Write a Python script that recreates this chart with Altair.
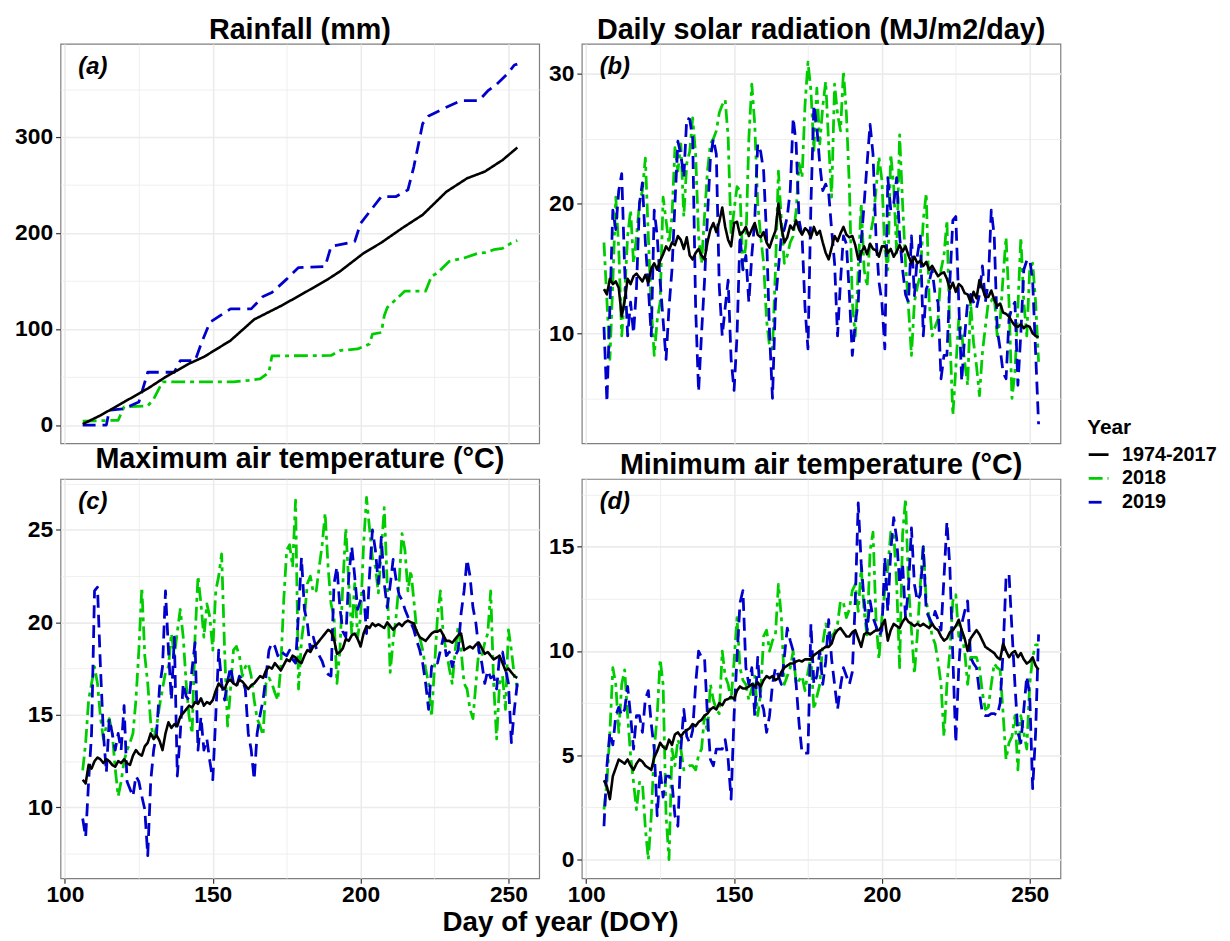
import altair as alt
import pandas as pd

FONT = "Liberation Sans"

# ---------------- data ----------------
DOY = list(range(106, 254))

# (a) cumulative rainfall (mm) - read at break points
rain_clim_doy = [106, 112, 120, 128, 134, 142, 147, 156, 164, 173, 180, 189, 193, 201, 207, 214, 221, 229, 236, 242, 248, 253]
rain_clim = [1, 10, 24, 38, 50, 64, 71, 88, 110, 124, 136, 152, 160, 179, 190, 205, 219, 243, 257, 264, 276, 289]

rain_2018_doy = [106, 118, 120, 128, 130, 133, 157, 162, 166, 169, 170, 190, 193, 199, 203, 204, 207, 208, 209, 212, 215,
                 222, 224, 226, 230, 235, 240, 242, 245, 248, 251, 253]
rain_2018 = [4, 5, 19, 20, 27, 45, 45, 46.5, 48, 55, 72, 72.5, 77.6, 79.3, 84.4, 94.7, 96.4, 113.8, 122.3, 131, 139.6,
             139.6, 155, 158.5, 170.6, 174, 179.2, 179.5, 182.6, 184, 189.6, 192.3]

rain_2019_doy = [106, 114, 115, 120, 125, 126, 128, 137, 139, 144, 146, 149, 153, 156, 163, 167, 170, 175, 179, 188, 190,
                 198, 200, 204, 207, 212, 216, 218, 221, 223, 229, 234, 240, 243, 246, 250, 252, 253]
rain_2019 = [0, 0, 15.5, 17, 24, 34, 55, 55, 67, 67, 84, 107, 115, 121, 121, 134, 138, 152, 164, 165, 186,
             191, 210, 226, 238, 238, 245, 269, 314, 322, 331, 338, 338, 348, 355, 367, 375, 376]

# (b) daily solar radiation (MJ/m2/day), DOY 106-253
rad_clim = [13.4, 13.0, 14.2, 13.8, 14.0, 13.5, 11.3, 12.5, 14.2, 13.8,
            14.4, 14.6, 14.3, 14.0, 14.5, 13.9, 15.0, 15.4, 14.9, 15.6,
            16.1, 16.7, 16.4, 17.0, 16.8, 17.5, 17.2, 16.5, 17.4, 16.0,
            15.7, 16.2, 16.5, 16.0, 15.7, 17.0, 18.0, 18.5, 17.8, 18.6,
            19.7, 18.2, 17.2, 16.7, 18.5, 18.6, 17.6, 17.8, 18.2, 17.5,
            18.0, 18.5, 17.6, 17.4, 17.8, 17.0, 16.6, 17.3, 17.9, 20.0,
            18.2, 17.0, 17.4, 18.3, 18.0, 18.7, 18.0, 17.6, 18.1, 17.9,
            17.4, 18.2, 17.6, 17.9, 17.0, 16.2, 15.7, 16.6, 17.5, 17.1,
            17.7, 18.2, 17.6, 17.4, 17.5, 16.8, 15.7, 16.2, 16.7, 16.1,
            16.9, 16.5, 16.4, 15.9, 16.7, 16.7, 16.2, 16.5, 15.9, 16.3,
            16.8, 16.3, 16.7, 16.0, 15.4, 15.9, 15.4, 15.6, 15.2, 15.5,
            14.9, 15.2, 14.8, 14.4, 14.6, 14.7, 14.2, 13.4, 13.9, 13.2,
            13.8, 13.6, 13.1, 13.0, 12.4, 13.2, 12.7, 14.1, 13.5, 12.8,
            12.8, 13.3, 12.6, 12.1, 12.3, 11.6, 11.5, 11.3, 10.9, 10.6,
            10.5, 10.7, 10.4, 10.6, 10.5, 10.0, 9.8, 9.7]
rad_2018 = [17.0, 12.5, 8.0, 14.0, 20.5, 16.5, 9.8, 13.0, 17.5, 19.5,
            15.4, 17.5, 20.0, 21.0, 23.5, 17.5, 12.0, 8.3, 11.0, 12.4,
            20.5, 18.7, 16.9, 19.0, 24.3, 22.5, 24.6, 19.0, 23.1, 24.0,
            26.6, 23.8, 17.5, 15.4, 19.0, 22.5, 24.6, 25.0, 25.6, 27.0,
            27.6, 28.0, 25.1, 17.5, 19.5, 21.3, 21.0, 14.9, 16.9, 25.0,
            29.2, 26.1, 20.0, 17.5, 15.4, 11.0, 9.0, 8.8, 14.9, 22.5,
            18.7, 15.4, 16.0, 17.0, 17.5, 19.5, 23.1, 22.0, 27.6, 30.9,
            28.7, 24.1, 28.9, 24.6, 27.5, 29.4, 24.6, 20.5, 29.2, 26.9,
            25.6, 30.2, 26.9, 21.3, 12.4, 9.8, 14.9, 20.0, 14.9, 13.6,
            17.5, 18.7, 21.0, 23.6, 21.8, 16.5, 14.9, 23.8, 21.3, 16.2,
            25.3, 20.0, 15.4, 12.0, 8.3, 12.4, 13.6, 14.5, 18.7, 20.8,
            12.4, 9.8, 10.5, 11.1, 14.9, 16.0, 18.7, 9.8, 3.7, 7.3,
            11.1, 10.0, 7.8, 6.0, 12.4, 9.3, 7.5, 5.2, 8.5, 10.5,
            12.4, 12.5, 12.9, 9.8, 11.0, 14.4, 17.4, 12.4, 5.0, 7.0,
            12.0, 17.4, 12.4, 9.8, 14.9, 15.4, 12.4, 7.8]
rad_2019 = [10.5, 4.7, 12.0, 19.5, 18.0, 21.0, 22.3, 15.0, 9.8, 12.4,
            10.0, 13.5, 20.0, 21.6, 17.0, 13.6, 9.8, 19.5, 17.5, 14.0,
            11.0, 8.0, 12.0, 14.9, 20.0, 24.8, 23.8, 22.0, 26.6, 26.5,
            25.0, 12.0, 5.5, 10.0, 14.0, 19.0, 23.5, 25.0, 23.8, 13.6,
            9.8, 12.0, 14.1, 8.0, 5.6, 9.8, 17.5, 14.9, 16.0, 12.4,
            16.0, 18.7, 24.6, 24.0, 22.5, 17.5, 10.0, 5.0, 12.4, 15.0,
            17.5, 18.0, 19.0, 21.0, 26.6, 24.6, 18.7, 17.5, 12.0, 8.8,
            20.0, 27.6, 25.9, 23.0, 21.0, 21.5, 20.8, 18.0, 15.4, 9.8,
            14.0, 17.5, 16.9, 13.0, 8.3, 10.8, 12.4, 17.0, 20.0, 23.1,
            26.1, 23.8, 17.5, 14.0, 12.4, 8.8, 22.0, 19.5, 20.0, 22.0,
            17.5, 14.9, 13.0, 12.4, 17.5, 12.9, 16.0, 17.5, 9.8, 13.4,
            14.0, 14.9, 13.0, 12.4, 6.5, 8.3, 8.3, 14.0, 18.7, 19.0,
            12.4, 6.3, 9.8, 12.4, 13.0, 12.4, 11.9, 13.0, 15.2, 12.4,
            14.0, 19.5, 17.5, 10.3, 8.8, 7.0, 6.5, 11.1, 12.0, 12.4,
            6.0, 10.0, 14.9, 15.6, 15.7, 14.0, 8.5, 3.0]

# (c) maximum air temperature (deg C)
tmax_clim = [11.5, 11.3, 12.3, 12.1, 12.5, 12.7, 12.6, 12.4, 12.6, 12.5,
             12.3, 12.2, 12.5, 12.4, 12.6, 12.4, 12.3, 12.8, 13.1, 12.9,
             12.8, 13.3, 13.5, 14.0, 13.7, 13.9, 13.6, 13.1, 14.0, 14.6,
             14.3, 14.5, 14.4, 14.9, 15.1, 15.3, 15.5, 15.4, 15.7, 15.6,
             15.9, 15.5, 15.7, 15.6, 15.8, 16.3, 16.7, 16.5, 16.4, 16.8,
             16.9, 16.7, 16.6, 16.9, 16.8, 16.6, 16.4, 16.6, 16.7, 16.9,
             17.1, 17.0, 17.4, 17.6, 17.5, 17.8, 17.6, 17.4, 17.7, 18.0,
             17.9, 18.2, 18.1, 17.9, 17.8, 18.2, 18.5, 18.4, 18.7, 18.8,
             19.0, 19.2, 19.4, 19.6, 19.5, 19.1, 18.3, 18.4, 18.6, 19.1,
             19.0, 19.3, 19.4, 19.1, 18.7, 19.4, 19.8, 19.7, 19.95, 19.8,
             19.9, 19.8, 19.7, 20.0, 19.8, 19.6, 19.8, 19.95, 19.8, 20.0,
             20.1, 20.0, 19.95, 19.5, 19.2, 19.1, 19.0, 19.2, 19.4, 19.5,
             19.5, 19.6, 19.3, 19.0, 19.0, 18.9, 19.1, 19.3, 19.4, 18.5,
             18.6, 18.7, 18.6, 18.8, 18.9, 18.6, 18.3, 18.4, 18.2, 18.0,
             18.1, 18.2, 17.8, 17.4, 17.5, 17.3, 17.1, 17.0]
tmax_2018 = [12.0, 13.5, 15.8, 16.7, 17.6, 16.7, 14.9, 13.7, 14.4, 14.8,
             14.0, 12.1, 10.6, 11.4, 12.5, 13.1, 13.5, 14.0, 15.8, 18.5,
             21.9, 18.2, 16.7, 14.6, 13.7, 14.4, 15.5, 16.4, 17.3, 17.6,
             19.4, 18.2, 19.5, 20.7, 19.2, 16.7, 14.9, 14.0, 19.2, 22.5,
             21.0, 19.2, 21.0, 20.3, 18.5, 21.7, 22.5, 23.7, 18.5, 14.4,
             16.4, 18.5, 18.7, 18.2, 17.1, 17.6, 17.8, 17.1, 15.8, 14.8,
             14.4, 13.9, 16.7, 17.0, 16.7, 16.2, 15.8, 17.6, 21.2, 23.9,
             24.2, 23.0, 26.6, 16.4, 19.0, 20.3, 22.1, 22.5, 21.6, 21.7,
             23.0, 24.2, 25.9, 23.0, 21.0, 20.3, 16.7, 18.5, 22.1, 25.1,
             22.1, 19.4, 22.1, 19.2, 20.3, 24.2, 26.75, 25.1, 23.5, 23.0,
             21.6, 23.9, 26.2, 22.1, 17.3, 19.0, 20.3, 22.1, 24.8, 23.9,
             21.7, 22.8, 21.2, 19.5, 19.2, 18.5, 17.5, 16.7, 14.9, 17.6,
             20.3, 21.7, 19.2, 18.5, 17.5, 16.7, 18.5, 19.8, 18.5, 16.7,
             16.4, 15.3, 14.8, 16.7, 18.5, 18.2, 18.9, 19.4, 21.7, 16.7,
             13.7, 16.7, 17.1, 15.3, 19.6, 18.5, 17.1, 16.5]
tmax_2019 = [9.4, 8.4, 11.4, 14.0, 21.7, 21.9, 17.6, 14.0, 11.9, 14.8,
             14.0, 13.1, 14.0, 13.1, 15.5, 11.4, 11.0, 10.6, 11.7, 11.4,
             10.6, 9.9, 7.4, 11.4, 13.1, 14.0, 16.5, 17.6, 21.7, 18.5,
             15.8, 19.2, 11.7, 14.0, 16.7, 16.0, 15.8, 17.5, 18.9, 13.1,
             14.9, 13.1, 13.7, 12.5, 11.5, 14.9, 18.5, 16.7, 15.8, 16.8,
             17.6, 16.7, 16.5, 17.1, 16.9, 16.4, 14.0, 13.1, 11.5, 14.0,
             15.0, 15.8, 17.1, 18.5, 18.9, 18.7, 18.2, 18.5, 18.3, 18.2,
             18.5, 18.0, 17.8, 20.5, 23.5, 20.7, 19.95, 18.5, 19.2, 18.6,
             18.2, 17.9, 17.4, 17.2, 17.1, 22.1, 23.0, 20.8, 19.5, 19.2,
             22.5, 24.1, 22.5, 20.7, 21.2, 21.7, 19.4, 22.5, 25.0, 23.9,
             22.1, 24.6, 22.1, 20.8, 22.0, 23.4, 22.3, 21.5, 21.2, 20.7,
             20.3, 20.0, 19.6, 19.0, 18.5, 17.8, 16.7, 15.3, 17.6, 17.9,
             17.8, 18.5, 19.2, 18.2, 18.4, 17.6, 18.2, 18.5, 20.5, 21.7,
             23.4, 22.5, 20.8, 19.95, 18.5, 17.8, 16.7, 17.4, 17.0, 17.1,
             16.4, 18.2, 18.4, 17.5, 16.7, 13.5, 15.3, 16.7]

# (d) minimum air temperature (deg C)
tmin_clim = [3.8, 3.5, 2.9, 4.0, 4.4, 4.8, 4.7, 4.6, 4.8, 4.5,
             4.3, 4.6, 4.8, 4.7, 4.5, 4.4, 4.3, 4.9, 5.2, 5.6,
             5.4, 5.3, 5.75, 5.5, 6.0, 6.1, 5.9, 6.1, 6.2, 6.3,
             6.5, 6.4, 6.6, 6.7, 6.9, 7.0, 7.2, 7.3, 7.2, 7.5,
             7.4, 7.65, 7.7, 7.8, 7.7, 8.1, 8.3, 8.2, 8.2, 8.3,
             8.4, 8.3, 8.5, 8.3, 8.6, 8.8, 8.7, 8.8, 8.6, 8.7,
             9.0, 9.2, 9.3, 9.4, 9.4, 9.5, 9.55, 9.5, 9.6, 9.6,
             9.6, 9.8, 9.9, 10.0, 10.1, 10.2, 10.2, 10.35, 10.8, 11.0,
             11.1, 10.9, 10.7, 10.7, 10.9, 11.0, 10.6, 10.2, 10.8, 10.9,
             10.8, 10.9, 11.0, 11.0, 11.2, 11.5, 10.5, 11.0, 11.3, 11.2,
             11.1, 11.4, 11.6, 11.4, 11.3, 11.2, 11.3, 11.2, 11.3, 11.2,
             11.1, 11.3, 11.1, 11.0, 10.7, 10.5, 10.6, 10.9, 11.0, 11.2,
             11.5, 11.0, 10.6, 10.0, 10.6, 10.8, 11.0, 10.8, 10.5, 10.2,
             10.1, 10.0, 9.9, 9.7, 9.6, 10.35, 10.0, 9.7, 9.9, 10.0,
             9.7, 9.9, 9.6, 9.4, 9.5, 9.7, 9.3, 9.1]
tmin_2018 = [2.4, 3.7, 6.1, 9.2, 8.4, 6.1, 8.4, 9.1, 6.9, 5.0,
             3.7, 2.4, 3.7, 3.7, 1.5, 0.0, 2.1, 5.3, 6.9, 9.6,
             8.4, 2.1, 0.0, 5.3, 4.5, 5.75, 5.3, 4.3, 4.4, 4.5,
             4.5, 4.3, 5.0, 5.3, 6.9, 6.1, 8.4, 7.65, 7.2, 7.0,
             10.0, 8.8, 8.4, 7.65, 9.5, 11.6, 9.2, 8.6, 8.4, 7.65,
             8.2, 8.8, 6.9, 8.0, 10.7, 11.0, 10.0, 10.5, 10.8, 13.2,
             11.6, 8.4, 8.8, 9.2, 10.0, 8.4, 8.6, 8.8, 8.1, 9.0,
             9.7, 7.2, 7.8, 8.4, 10.35, 11.3, 10.8, 10.7, 10.9, 11.3,
             12.4, 12.3, 11.6, 12.0, 12.9, 13.2, 11.9, 14.0, 11.9, 10.7,
             14.8, 15.7, 11.6, 9.6, 11.6, 12.9, 14.0, 15.7, 15.7, 13.2,
             9.2, 15.6, 17.3, 13.2, 11.0, 8.9, 10.8, 13.2, 15.1, 12.4,
             11.6, 10.7, 10.35, 9.5, 8.4, 5.9, 8.4, 10.0, 12.4, 12.7,
             10.7, 10.8, 10.0, 8.4, 9.7, 9.7, 9.7, 9.2, 8.0, 7.2,
             7.3, 8.4, 9.4, 9.2, 9.1, 7.0, 4.8, 5.6, 5.9, 6.9,
             4.3, 6.9, 6.1, 5.3, 8.4, 9.7, 10.3, 10.3]
tmin_2019 = [1.6, 4.5, 6.1, 5.5, 6.9, 7.3, 6.9, 7.2, 8.3, 6.9,
             5.3, 6.9, 6.9, 6.1, 7.7, 8.1, 6.5, 5.3, 2.1, 4.3,
             3.0, 4.0, 4.0, 3.7, 2.1, 1.6, 5.3, 7.2, 5.9, 5.6,
             6.2, 8.4, 10.0, 9.7, 9.7, 6.9, 4.8, 4.5, 5.3, 5.3,
             5.3, 5.75, 4.8, 2.9, 6.9, 9.7, 12.3, 12.9, 9.2, 8.4,
             9.2, 6.9, 9.7, 7.65, 7.2, 6.1, 6.9, 8.4, 9.2, 8.8,
             8.4, 9.7, 11.1, 10.5, 10.0, 8.4, 6.5, 5.1, 5.1, 5.1,
             11.3, 8.4, 8.8, 10.0, 8.4, 9.5, 11.5, 9.6, 8.4, 7.2,
             8.3, 9.2, 8.8, 8.4, 9.0, 12.4, 17.1, 14.2, 12.4, 11.0,
             12.4, 11.6, 11.2, 10.7, 11.0, 14.5, 11.9, 14.8, 16.4, 15.4,
             13.2, 14.2, 11.6, 13.0, 15.9, 13.2, 12.4, 12.7, 15.0, 11.9,
             11.6, 11.3, 11.9, 11.5, 11.0, 13.5, 16.2, 14.0, 9.7, 5.6,
             9.2, 11.3, 11.9, 12.4, 9.7, 9.4, 9.2, 8.0, 7.0, 6.9,
             6.9, 7.0, 7.0, 6.9, 7.5, 10.0, 13.5, 13.7, 11.0, 8.4,
             6.1, 5.6, 7.2, 8.8, 7.9, 3.4, 6.1, 10.8]

YEARS = ["1974-2017", "2018", "2019"]
COLORS = ["#000000", "#00cd00", "#0000cd"]
DASHES = [[1, 0], [14, 5, 4, 5], [13, 7]]

X_TICKS = [100, 125, 150, 175, 200, 225, 250]

# ---------------- helpers ----------------
color_scale = alt.Scale(domain=YEARS, range=COLORS)
dash_scale = alt.Scale(domain=YEARS, range=DASHES)

legend = alt.Legend(
    title="Year", orient="none", legendX=1036, legendY=377, padding=0,
    symbolType="stroke", symbolSize=400, symbolStrokeWidth=2.8,
    titleFont=FONT, titleFontSize=21, titleFontWeight="bold", titleColor="black", titlePadding=5,
    labelFont=FONT, labelFontSize=20, labelFontWeight="bold", labelColor="black",
    labelOffset=12, rowPadding=2,
)


def xaxis(bottom, with_title=False):
    major = "datum.value % 50 === 0"
    common = dict(values=X_TICKS, grid=True, domain=False, labelOverlap=False, labelFlush=False,
                  gridWidth={"condition": {"test": major, "value": 1.6}, "value": 0.8})
    if not bottom:
        return alt.Axis(labels=False, ticks=False, title=None, **common)
    if with_title:
        extra = dict(title="Day of year (DOY)", titleX=504, titleY=53, titleFont=FONT, titleFontSize=28,
                     titleFontWeight="bold", titleColor="black", titleAlign="center", titleBaseline="alphabetic")
    else:
        extra = dict(title=None)
    return alt.Axis(labels=True, ticks=True, labelPadding=0,
                    labelExpr=f"{major} ? datum.label : ''",
                    tickOpacity={"condition": {"test": major, "value": 1}, "value": 0},
                    **common, **extra)


def yaxis(vals, mod):
    major = f"datum.value % {mod} === 0"
    return alt.Axis(values=vals, grid=True, domain=False, title=None, labelOverlap=False, labelFlush=False,
                    labelPadding=3,
                    labelExpr=f"{major} ? datum.label : ''",
                    tickOpacity={"condition": {"test": major, "value": 1}, "value": 0},
                    gridWidth={"condition": {"test": major, "value": 1.6}, "value": 0.8})


def panel(title, label, series, ydom, yvals, ymod, bottom, with_title=False):
    xa = xaxis(bottom, with_title)
    ya = yaxis(yvals, ymod)
    layers = []
    for year in ["2018", "2019", "1974-2017"]:
        doys, vals = series[year]
        df = pd.DataFrame({"DOY": doys, "value": vals, "Year": year})
        layers.append(
            alt.Chart(df).mark_line(strokeWidth=2.6 if year == "1974-2017" else 2.8, strokeJoin="round").encode(
                x=alt.X("DOY:Q", scale=alt.Scale(domain=[98.5, 260.4], nice=False, zero=False), axis=xa),
                y=alt.Y("value:Q", scale=alt.Scale(domain=ydom, nice=False, zero=False), axis=ya),
                color=alt.Color("Year:N", scale=color_scale, legend=legend),
                strokeDash=alt.StrokeDash("Year:N", scale=dash_scale, legend=legend),
                order="DOY:Q",
            )
        )
    lab = alt.Chart(pd.DataFrame({"label": [label]})).mark_text(
        font=FONT, fontSize=24, fontWeight="bold", fontStyle="italic", align="left", baseline="alphabetic",
        color="black"
    ).encode(x=alt.value(18), y=alt.value(30), text="label:N")
    return alt.layer(*layers, lab).properties(
        width=483, height=403,
        title=alt.TitleParams(title, font=FONT, fontSize=29, fontWeight="bold", color="black",
                              anchor="middle", offset=-1),
    )


pa = panel("Rainfall (mm)", "(a)",
           {"1974-2017": (rain_clim_doy, rain_clim), "2018": (rain_2018_doy, rain_2018),
            "2019": (rain_2019_doy, rain_2019)},
           [-19, 397], [0, 50, 100, 150, 200, 250, 300, 350], 100, False)
pb = panel("Daily solar radiation (MJ/m2/day)", "(b)",
           {"1974-2017": (DOY, rad_clim), "2018": (DOY, rad_2018), "2019": (DOY, rad_2019)},
           [1.53, 32.3], [5, 10, 15, 20, 25, 30], 10, False)
pc = panel("Maximum air temperature (°C)", "(c)",
           {"1974-2017": (DOY, tmax_clim), "2018": (DOY, tmax_2018), "2019": (DOY, tmax_2019)},
           [6.17, 27.75], [7.5, 10, 12.5, 15, 17.5, 20, 22.5, 25, 27.5], 5, True, with_title=True)
pd_ = panel("Minimum air temperature (°C)", "(d)",
            {"1974-2017": (DOY, tmin_clim), "2018": (DOY, tmin_2018), "2019": (DOY, tmin_2019)},
            [-0.9, 18.25], [0, 2.5, 5, 7.5, 10, 12.5, 15, 17.5], 5, True)

chart = alt.concat(pa, pb, pc, pd_, columns=2, spacing={"row": 36, "column": 43}).properties(
    bounds="flush", background="white",
    padding={"left": 6, "top": 3, "right": 5, "bottom": 0},
).configure_view(
    stroke="#7f7f7f", strokeWidth=1.2
).configure_axis(
    labelFont=FONT, labelFontSize=23, labelFontWeight="bold", labelColor="black",
    tickColor="#333333", tickSize=5, tickWidth=1.2, gridColor="#ebebeb"
)

chart.save("out.html", embed_options={"renderer": "svg", "actions": False})
